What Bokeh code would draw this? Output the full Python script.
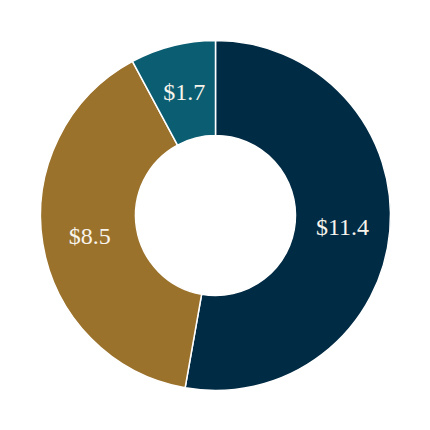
import math
from bokeh.plotting import figure
from bokeh.models import ColumnDataSource
from bokeh.core.properties import value
from bokeh.embed import file_html
from bokeh.resources import INLINE

labels = ["$11.4", "$8.5", "$1.7"]
values = [11.4, 8.5, 1.7]
colors = ["#002B45", "#9B722C", "#0B5E72"]

total = sum(values)
starts, ends, lx, ly = [], [], [], []
acc = 0.0
r_in, r_out = 80, 175
r_lab = (r_in + r_out) / 2
for v in values:
    a0 = math.pi / 2 - acc / total * 2 * math.pi
    acc += v
    a1 = math.pi / 2 - acc / total * 2 * math.pi
    starts.append(a0)
    ends.append(a1)
    mid = (a0 + a1) / 2
    lx.append(r_lab * math.cos(mid))
    ly.append(r_lab * math.sin(mid))

src = ColumnDataSource(dict(start=starts, end=ends, color=colors, label=labels, lx=lx, ly=ly))

p = figure(width=414, height=414, x_range=(-215, 199), y_range=(-199, 215),
           output_backend="svg", toolbar_location=None, min_border=0)
p.axis.visible = False
p.grid.visible = False
p.outline_line_color = None
p.background_fill_color = "white"

p.annular_wedge(x=0, y=0, inner_radius=r_in, outer_radius=r_out,
                start_angle="start", end_angle="end", direction="clock",
                fill_color="color", line_color="white", line_width=1.5, source=src)

p.text(x="lx", y="ly", text="label", source=src, text_align="center", text_baseline="middle",
       text_font=value("Liberation Serif"), text_font_size="24px", text_color="#F8F4EC")

open("out.html", "w").write(file_html(p, INLINE))
